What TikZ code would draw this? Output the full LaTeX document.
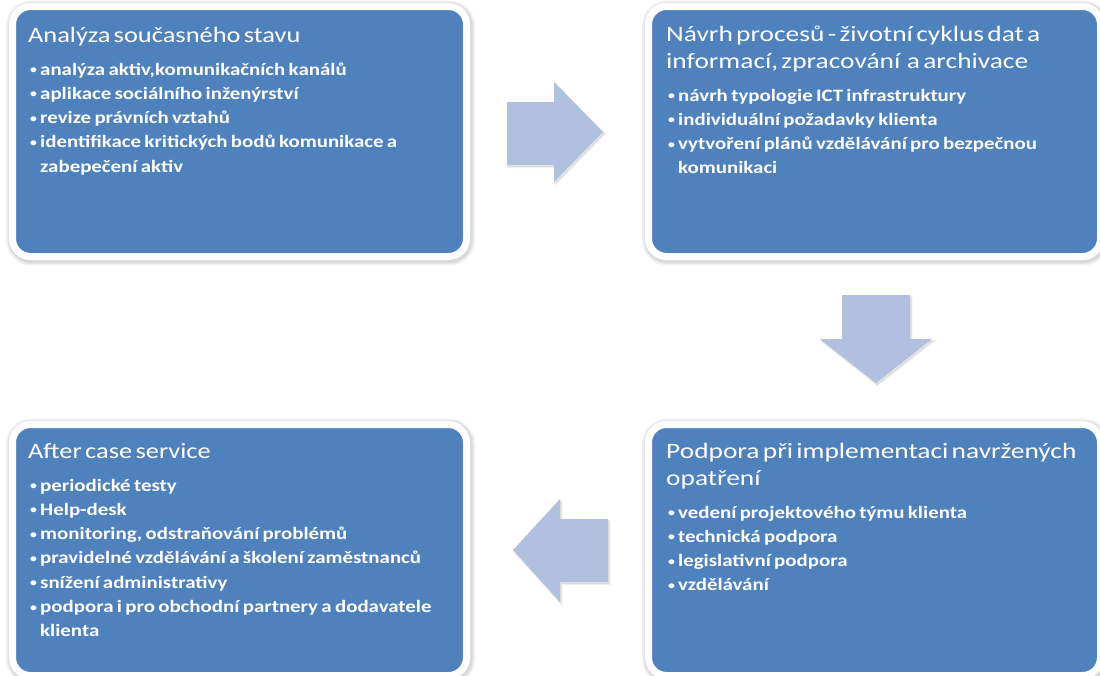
\documentclass[tikz,border=0pt]{standalone}
\usepackage{fontspec}
\setmainfont{Carlito}[FakeStretch=1.2]
\newfontfamily\widefont{Carlito}[FakeStretch=1.245]
\definecolor{boxblue}{HTML}{4F81BD}
\definecolor{arrowblue}{HTML}{B0C0DE}
\newcommand{\bitem}[1]{\par\noindent\hangindent=12pt\hangafter=1\hspace*{2pt}\makebox[10pt][l]{\raisebox{1.5pt}{\fontsize{11.5}{11.5}\selectfont •}}#1}
\tikzset{
  halo/.style={draw=black, line width=#1, rounded corners=18pt, draw opacity=0.05},
  panel/.style={fill=boxblue, draw=white, line width=7pt, rounded corners=18pt},
  paneltext/.style={anchor=base west, inner sep=0pt, text=white, align=left, text width=#1},
  blockarrow/.style={fill=arrowblue, draw=none},
  arrowshadow/.style={fill=black, fill opacity=0.10, draw=black, draw opacity=0.05, line width=2pt}
}
\newcommand{\ptitle}[1]{{\fontsize{22}{27}\selectfont #1\par}\vspace{8.7pt}\fontsize{17.4}{24.3}\selectfont\bfseries}
\newcommand{\panel}[4]{%
  \foreach \w in {15,12,10}{\path[halo=\w pt] (#1+1,#2+1.5) rectangle (#3+1,#4+1.5);}
  \path[panel] (#1,#2) rectangle (#3,#4);}
\begin{document}
\begin{tikzpicture}[x=1pt,y=-1pt]
\useasboundingbox (0,0) rectangle (1100,675);
% panels
\panel{12.5}{6.5}{466.5}{256.5}
\panel{648.5}{6.5}{1100.5}{256.5}
\panel{648.5}{424.5}{1100.5}{675.5}
\panel{12.5}{424.5}{466.5}{675.5}
% texts
\node[paneltext=430pt] (t1) at (28,42) {\ptitle{Analýza současného stavu}%
\bitem{analýza aktiv,komunikačních kanálů}%
\bitem{aplikace sociálního inženýrství}%
\bitem{revize právních vztahů}%
\bitem{identifikace kritických bodů komunikace a\newline zabepečení aktiv}\par};
\node[paneltext=425pt] (t2) at (666,41) {\ptitle{\widefont Návrh procesů - životní cyklus dat a\\informací, zpracování\ \ a archivace}%
\bitem{návrh typologie ICT infrastruktury}%
\bitem{individuální požadavky klienta}%
\bitem{vytvoření plánů vzdělávání pro bezpečnou\newline komunikaci}\par};
\node[paneltext=425pt] (t3) at (666,458) {\ptitle{\widefont Podpora při implementaci navržených\\opatření}%
\bitem{vedení projektového týmu klienta}%
\bitem{technická podpora}%
\bitem{legislativní podpora}%
\bitem{vzdělávání}\par};
\node[paneltext=430pt] (t4) at (28,458) {\ptitle{After case service}%
\bitem{periodické testy}%
\bitem{Help-desk}%
\bitem{monitoring, odstraňování problémů}%
\bitem{pravidelné vzdělávání a školení zaměstnanců}%
\bitem{snížení administrativy}%
\bitem{podpora i pro obchodní partnery a dodavatele\newline klienta}\par};
% block arrows
\begin{scope}[shift={(1.5,2)}]
\path[arrowshadow] (507,102) -- (554,102) -- (554,82) -- (603,132) -- (554,182) -- (554,165) -- (507,165) -- cycle;
\path[arrowshadow] (842,295) -- (910,295) -- (910,339) -- (932,339) -- (876,383) -- (820,339) -- (842,339) -- cycle;
\path[arrowshadow] (608,519) -- (560,519) -- (560,499) -- (513,550) -- (560,602) -- (560,582) -- (608,582) -- cycle;
\end{scope}
\path[blockarrow] (507,102) -- (554,102) -- (554,82) -- (603,132) -- (554,182) -- (554,165) -- (507,165) -- cycle;
\path[blockarrow] (842,295) -- (910,295) -- (910,339) -- (932,339) -- (876,383) -- (820,339) -- (842,339) -- cycle;
\path[blockarrow] (608,519) -- (560,519) -- (560,499) -- (513,550) -- (560,602) -- (560,582) -- (608,582) -- cycle;
\end{tikzpicture}
\end{document}
